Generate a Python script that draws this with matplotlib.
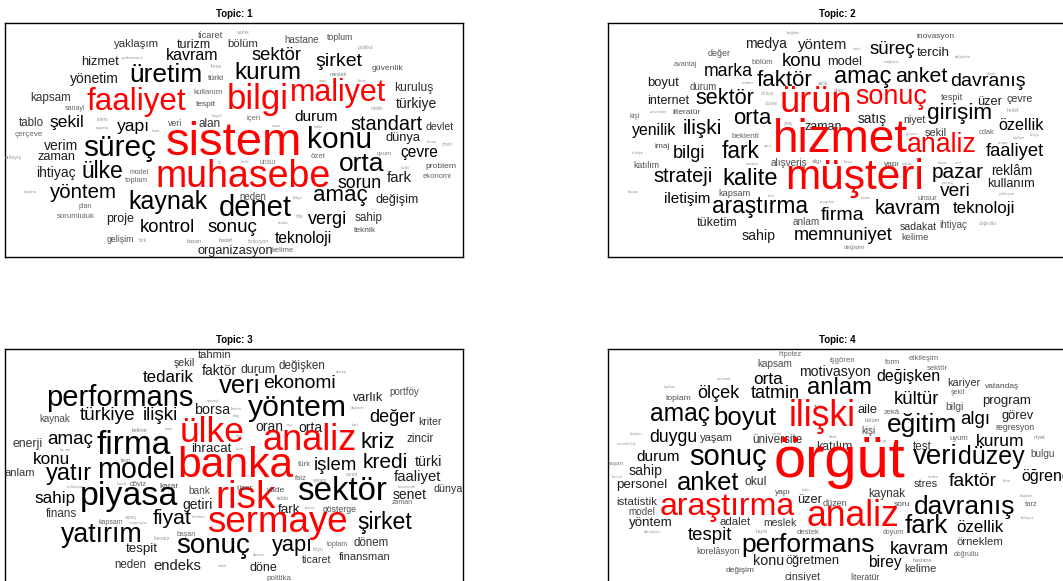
import matplotlib
matplotlib.use("Agg")
import matplotlib.pyplot as plt

plt.rcParams['font.family'] = ['Liberation Sans', 'DejaVu Sans']

# ---------------- data: words and their weights (word-cloud frequencies) -------------
topic1_words = ["ticaret", "varlık", "yaklaşım", "turizm", "bölüm", "hastane", "toplum", "politika",
                "kavram", "sektör", "şirket", "güvenlik", "meslek", "hizmet", "performans", "firma",
                "üretim", "kurum", "yönetim", "türki", "araç", "birim", "kuruluş", "faaliyet", "bilgi",
                "maliyet", "kapsam", "sanayi", "kullanım", "tespit", "hayat", "türkiye", "nitelik",
                "içeri", "durum", "tablo", "şekil", "işlem", "sigorta", "yapı", "hata", "veri", "alan",
                "çerçeve", "standart", "devlet", "rapor", "kalite", "sistem", "konu", "dünya", "konut",
                "öneri", "verim", "süreç", "anlayış", "zaman", "çevre", "uyum", "özet", "unsur", "tarih",
                "orta", "katkı", "problem", "ihtiyaç", "ülke", "model", "toplam", "ilk", "muhasebe",
                "ekonomi", "fark", "sorun", "aşama", "yöntem", "amaç", "değişim", "neden", "bölge",
                "kaynak", "denet", "plan", "sorumluluk", "proje", "vergi", "sahip", "hile", "analiz",
                "kontrol", "sonuç", "teknik", "teknoloji", "gelişim", "türk", "başarı", "hedef",
                "fonksiyon", "organizasyon", "kelime"]
topic1_weights = [6.6, 3.8, 8.2, 9, 8.2, 7.1, 6.3, 3.5,
                  11.5, 13.2, 14, 6.1, 4, 9.3, 3.2, 3.5,
                  19, 17.4, 10, 6, 3.2, 3.2, 8.7, 22.5, 25,
                  22, 8.4, 5, 5.7, 6, 3.2, 10, 3.5,
                  5.4, 11, 8.3, 12.6, 3.5, 3.2, 12.6, 3.2, 6.3, 8.4,
                  5.8, 14.3, 7.6, 3, 3, 34, 21.6, 9.3, 3.2,
                  3.5, 10, 21.5, 3.8, 9.1, 11.2, 4.4, 5.7, 4.9, 3,
                  19, 3.2, 6.1, 10, 16.5, 5, 5.5, 3, 27,
                  5.5, 10.8, 12.7, 3.2, 14.7, 16, 9, 7, 3,
                  18, 21, 5, 5.7, 9, 13, 8.4, 3.5, 3.2,
                  13.2, 13.5, 6, 11.2, 6.3, 3.5, 4, 4,
                  3.5, 9.2, 5.5]

topic2_words = ["bağlam", "inovasyon", "medya", "yöntem", "istek", "süreç", "tercih", "değişken", "değer",
                "avantaj", "bölüm", "konu", "model", "mağaza", "marka", "faktör", "amaç", "anket",
                "davranış", "ölçek", "boyut", "durum", "neden", "şehir", "alan", "internet", "sektör",
                "dünya", "düzey", "ürün", "sonuç", "tespit", "üzer", "çevre", "hedef", "üniversite",
                "literatür", "kişi", "orta", "araç", "satış", "niyet", "girişim", "özellik", "yenilik",
                "ilişki", "beklenti", "zaman", "hizmet", "şekil", "yatırım", "odak", "toplum", "bulgu",
                "analiz", "ortam", "faaliyet", "fark", "imaj", "bilgi", "türkiye", "aynı", "katılım",
                "merkez", "alışveriş", "algı", "birey", "yapı", "sokak", "karar", "otel", "pazar",
                "reklâm", "müşteri", "strateji", "kalite", "kullanım", "yaşam", "yaklaşım", "veri",
                "başarı", "iletişim", "kapsam", "araştırma", "kısıt", "program", "unsur", "tutum",
                "teknoloji", "firma", "kavram", "tüketim", "anlam", "sadakat", "ihtiyaç", "doğrultu",
                "sahip", "memnuniyet", "kelime", "değişim"]
topic2_weights = [3, 6, 10, 10.8, 3, 13.5, 9.7, 3, 6.4,
                  5.3, 5.8, 13.3, 9.3, 3.2, 12.7, 16, 16.8, 15.4,
                  14, 3, 9.4, 6.9, 3.2, 3.5, 3.8, 9, 15.6,
                  3.5, 3.5, 26, 19.4, 6.6, 9.2, 7.7, 3.5, 3,
                  6, 5, 16, 3.5, 9.9, 7.6, 16.2, 11.7, 11.4,
                  15, 5.9, 9, 33, 7.9, 3, 5.3, 3, 3,
                  19.3, 3, 13.2, 16.4, 6, 13, 3, 3, 6.3,
                  3, 7.2, 4.5, 3, 6, 3, 3, 3, 15,
                  9.9, 30.5, 14.4, 17, 9.2, 3, 3, 13.8,
                  3, 11, 6.6, 16.4, 3, 3, 5.8, 3,
                  12.2, 14, 14.5, 9, 7.2, 7.6, 7.1, 3.5,
                  10.2, 13.1, 6.8, 4.5]

topic3_words = ["tahmin", "şekil", "faktör", "durum", "değişken", "düzey", "tedarik", "veri", "ekonomi",
                "performans", "varlık", "portföy", "yöntem", "sanayi", "borsa", "kaynak", "türkiye",
                "ilişki", "bakım", "bilgi", "dağıtım", "değer", "kriter", "oran", "sayı", "orta", "kart",
                "ülke", "analiz", "kriz", "zincir", "enerji", "amaç", "firma", "kelime", "araç", "kurum",
                "ölçü", "ürün", "ihracat", "konu", "test", "anlam", "yatır", "model", "banka", "türk",
                "işlem", "kredi", "türki", "faaliyet", "faiz", "sistem", "sonra", "enflasyon", "konut",
                "döviz", "karar", "sahip", "piyasa", "bank", "getiri", "risk", "üzer", "vade", "tablo",
                "sektör", "senet", "dünya", "kooperatif", "zaman", "finans", "süreç", "hareket",
                "kapsam", "regresyon", "fiyat", "fark", "pazar", "gösterge", "sermaye", "şirket",
                "yatırım", "başarı", "literatür", "sonuç", "yapı", "büyü", "toplam", "derece", "dönem",
                "tespit", "ticaret", "finansman", "neden", "endeks", "nakit", "döne", "politika"]
topic3_weights = [8, 7.6, 10, 8.9, 8.4, 3, 12.2, 18.5, 13.9,
                  21, 9, 7, 21.7, 3.2, 10.4, 7, 13.7,
                  13.7, 3, 3, 3, 13, 7.5, 10, 3, 10, 3,
                  25.5, 26, 16, 8.4, 8.8, 13.6, 24, 4, 3.2, 3,
                  3, 3, 9.6, 12.3, 4.5, 8, 17, 20.6, 30.7, 5.7,
                  13.4, 15, 10.3, 10.7, 5.5, 3.5, 3.5, 3, 3,
                  5.3, 6, 12.3, 24.5, 7.3, 10, 28, 6, 6, 4,
                  23.8, 10, 7.7, 3, 5, 8.4, 3.5, 3,
                  5, 3, 15.3, 9.6, 3, 6.2, 26.5, 16.6,
                  19.3, 5, 3.5, 20, 15.7, 3.5, 5, 3, 8.3,
                  9.6, 7.7, 8.1, 8.3, 10.7, 3.2, 9, 5.8]

topic4_words = ["hipotez", "işgören", "form", "etkileşim", "sektör", "kapsam", "motivasyon", "değişken",
                "yetenek", "toplum", "kariyer", "vatandaş", "orta", "anlam", "toplam", "ölçek", "tatmin",
                "şekil", "kültür", "bilgi", "program", "değer", "amaç", "boyut", "ilişki", "aile", "zekâ",
                "bölüm", "kişi", "eğitim", "algı", "görev", "regresyon", "iletişim", "sorumluluk",
                "duygu", "yaşam", "verim", "üniversite", "ifade", "grup", "katılım", "test", "uyum",
                "kurum", "niyet", "bulgu", "başarı", "durum", "sonuç", "örgüt", "veri", "düzey", "sahip",
                "beceri", "personel", "anket", "okul", "neden", "iklim", "stres", "faktör", "öğrenci",
                "istatistik", "araştırma", "yapı", "katkı", "üzer", "kaynak", "davranış", "bağlam",
                "tarz", "soru", "düzen", "model", "analiz", "yöntem", "adalet", "meslek", "faaliyet",
                "dönüşüm", "hayat", "destek", "tespit", "doyum", "fark", "özellik", "performans",
                "örneklem", "korelâsyon", "kavram", "doğrultu", "konu", "öğretmen", "hastane", "kelime",
                "birey", "değişim", "cinsiyet", "literatür"]
topic4_weights = [5.2, 5.6, 5.5, 5.5, 5.5, 7.2, 10.2, 11.5,
                  3, 3, 7.9, 6, 12.4, 17.2, 6.1, 13, 13,
                  5, 13.4, 7.4, 9.5, 3, 17.7, 18.5, 25.6, 9.3, 5.5,
                  4, 7, 19, 13.4, 9.3, 6.3, 3, 3,
                  12.7, 8, 3, 8.5, 3, 3, 8.8, 8.4, 5.5,
                  12.5, 4, 7.2, 4.5, 11, 21, 41.7, 20, 18, 10.2,
                  3, 9.6, 18.4, 8.7, 3, 3, 8, 13.9, 11.5,
                  8.2, 23, 6, 3, 9.3, 8.4, 19, 3,
                  5.5, 6, 6.5, 7.1, 25.6, 9.6, 8.2, 7.5, 3,
                  3, 3.5, 5.5, 13.4, 5, 18.7, 12.2, 19,
                  8.2, 6.4, 13, 5, 10.3, 9.2, 4, 8,
                  11.2, 6, 7.7, 6.3]

topic_titles = ["Topic: 1", "Topic: 2", "Topic: 3", "Topic: 4"]
highlight_counts = [5, 5, 5, 4]   # number of top words drawn in red

# ---------------- layout: word-cloud placement (figure pixel coords) -----------------
topic1_xy = [(210, 35), (243, 32), (137, 44), (194, 45), (243, 44), (302, 40), (340, 38), (365, 48),
             (192, 55), (277, 56), (339, 62), (387, 68), (338, 75), (100, 62), (133, 58), (216, 66),
             (166, 75), (268, 73), (94, 79), (216, 78), (323, 81), (362, 81), (414, 88), (136, 102), (258, 100),
             (338, 93), (51, 98), (75, 108), (208, 92), (206, 104), (217, 116), (416, 104), (377, 108),
             (254, 118), (316, 117), (31, 123), (67, 123), (102, 120), (102, 128), (133, 127), (156, 131), (175, 123), (210, 124),
             (29, 134), (386, 125), (440, 127), (276, 126), (318, 127), (234, 143), (340, 140), (403, 138), (432, 142),
             (447, 144), (61, 146), (120, 148), (13, 157), (57, 157), (419, 153), (384, 153), (318, 157), (268, 162), (245, 162),
             (362, 164), (405, 168), (441, 166), (56, 173), (102, 172), (139, 172), (136, 181), (220, 163), (243, 177),
             (437, 177), (399, 178), (360, 183), (30, 192), (83, 193), (340, 196), (397, 200), (253, 197), (298, 198),
             (168, 202), (255, 208), (85, 207), (76, 217), (120, 219), (328, 220), (369, 218), (300, 216), (283, 223),
             (167, 228), (232, 227), (365, 231), (303, 238), (120, 240), (143, 241), (194, 241), (226, 241),
             (258, 242), (235, 251), (283, 251)]

topic2_xy = [(793, 33), (936, 37), (766, 44), (823, 45), (857, 49), (892, 50), (933, 53), (963, 57), (719, 54),
             (685, 65), (762, 62), (802, 62), (845, 62), (891, 62), (728, 71), (785, 80), (863, 76), (921, 76),
             (988, 82), (992, 74), (663, 83), (703, 87), (748, 83), (823, 84), (839, 90), (668, 101), (725, 98),
             (768, 94), (771, 104), (816, 103), (891, 97), (952, 97), (990, 102), (1020, 99), (1013, 111), (659, 112),
             (687, 112), (635, 117), (752, 118), (789, 123), (872, 119), (914, 120), (960, 113), (1021, 125), (654, 130),
             (702, 128), (745, 136), (823, 127), (840, 140), (936, 133), (912, 134), (987, 133), (1019, 138), (1035, 135),
             (942, 145), (1003, 143), (1015, 152), (741, 151), (662, 146), (689, 153), (638, 153), (768, 146), (646, 165),
             (752, 164), (789, 163), (817, 162), (848, 162), (892, 164), (907, 164), (942, 163), (958, 163), (958, 172),
             (1012, 171), (855, 178), (683, 177), (750, 179), (1011, 184), (948, 183), (1007, 194), (955, 192),
             (633, 192), (687, 199), (735, 193), (760, 206), (772, 196), (827, 202), (927, 199), (866, 198),
             (984, 208), (843, 215), (908, 209), (717, 223), (806, 222), (918, 227), (953, 225), (988, 223),
             (759, 236), (843, 236), (915, 237), (855, 247)]

topic3_xy = [(215, 355), (184, 363), (219, 371), (258, 370), (302, 366), (341, 372), (168, 377), (240, 386), (299, 384),
             (120, 398), (368, 398), (404, 392), (297, 408), (213, 401), (212, 410), (55, 419), (107, 416),
             (160, 416), (236, 409), (236, 416), (358, 408), (392, 418), (430, 422), (269, 427), (290, 425), (310, 428), (355, 425),
             (212, 432), (310, 440), (378, 443), (420, 439), (28, 444), (70, 440), (134, 446), (140, 431), (169, 429), (65, 450),
             (240, 436), (240, 449), (211, 449), (52, 460), (126, 461), (20, 473), (69, 474), (136, 470), (235, 466), (304, 465),
             (335, 465), (385, 463), (428, 462), (417, 477), (301, 479), (320, 480), (352, 475), (76, 487), (122, 484),
             (138, 485), (169, 486), (55, 498), (129, 497), (199, 491), (198, 505), (246, 498), (245, 489), (276, 490), (283, 498),
             (342, 492), (410, 495), (448, 489), (407, 487), (402, 503), (61, 514), (131, 517), (199, 517),
             (111, 523), (139, 523), (172, 518), (289, 510), (310, 508), (340, 510), (277, 523), (385, 522),
             (102, 535), (186, 534), (162, 539), (213, 546), (292, 546), (318, 549), (337, 545), (259, 555), (371, 543),
             (142, 549), (317, 560), (365, 557), (130, 565), (177, 566), (222, 566), (263, 568), (279, 578)]

topic4_xy = [(790, 355), (842, 361), (893, 363), (924, 358), (937, 369), (775, 364), (835, 372), (908, 377),
             (724, 379), (670, 387), (964, 383), (1002, 386), (768, 379), (840, 388), (679, 398), (718, 393), (775, 394),
             (958, 393), (916, 400), (954, 407), (1007, 401), (819, 406), (680, 414), (745, 418), (822, 417), (868, 410), (892, 412),
             (872, 420), (868, 431), (922, 425), (975, 420), (1018, 416), (1015, 428), (636, 434), (627, 444),
             (673, 437), (716, 438), (777, 434), (777, 440), (833, 437), (883, 441), (834, 447), (922, 447), (959, 439),
             (1000, 441), (1039, 438), (1043, 454), (615, 463), (658, 457), (728, 457), (839, 462), (935, 457), (991, 457), (646, 471),
             (617, 477), (642, 485), (708, 483), (756, 482), (933, 477), (1007, 481), (926, 484), (973, 482), (1048, 477),
             (637, 502), (727, 507), (783, 492), (806, 490), (810, 500), (887, 494), (965, 507), (1026, 496),
             (1031, 505), (902, 504), (835, 504), (642, 512), (853, 517), (651, 523), (735, 522), (780, 523), (1027, 518),
             (652, 532), (762, 531), (808, 532), (710, 536), (893, 532), (926, 526), (980, 528), (808, 545),
             (980, 542), (718, 551), (919, 549), (967, 554), (769, 561), (813, 561), (922, 560), (920, 569),
             (885, 563), (740, 571), (803, 577), (865, 577)]

W, H = 1063, 581
PANEL_W, PANEL_H = 458, 234
panel_origins = [(5, 23), (608, 23), (5, 349), (608, 349)]


def gray_for(size):
    if size >= 11:
        return "#000000"
    if size >= 9:
        return "#1c1c1c"
    if size >= 7.5:
        return "#333333"
    if size >= 6:
        return "#4d4d4d"
    if size >= 5:
        return "#666666"
    if size >= 4:
        return "#808080"
    return "#9a9a9a"


fig = plt.figure(figsize=(W / 100, H / 100), dpi=100)

topics = [(topic1_words, topic1_weights, topic1_xy),
          (topic2_words, topic2_weights, topic2_xy),
          (topic3_words, topic3_weights, topic3_xy),
          (topic4_words, topic4_weights, topic4_xy)]

for (words, weights, xy), (x0, y0), title, n_red in zip(topics, panel_origins, topic_titles, highlight_counts):
    ax = fig.add_axes([x0 / W, 1 - (y0 + PANEL_H) / H, PANEL_W / W, PANEL_H / H])
    ax.set_xlim(x0, x0 + PANEL_W)
    ax.set_ylim(y0 + PANEL_H, y0)
    ax.set_xticks([])
    ax.set_yticks([])
    for sp in ax.spines.values():
        sp.set_linewidth(1.0)
        sp.set_color("black")
    ax.set_title(title, fontsize=7, fontweight="bold", pad=4)
    order = sorted(range(len(words)), key=lambda k: -weights[k])
    red_set = set(order[:n_red])
    for k, (w, s, (x, y)) in enumerate(zip(words, weights, xy)):
        color = "#ff0000" if k in red_set else gray_for(s)
        ax.text(x, y, w, fontsize=s, color=color, ha="center", va="center", clip_on=True)

fig.savefig("out.png", dpi=100)
